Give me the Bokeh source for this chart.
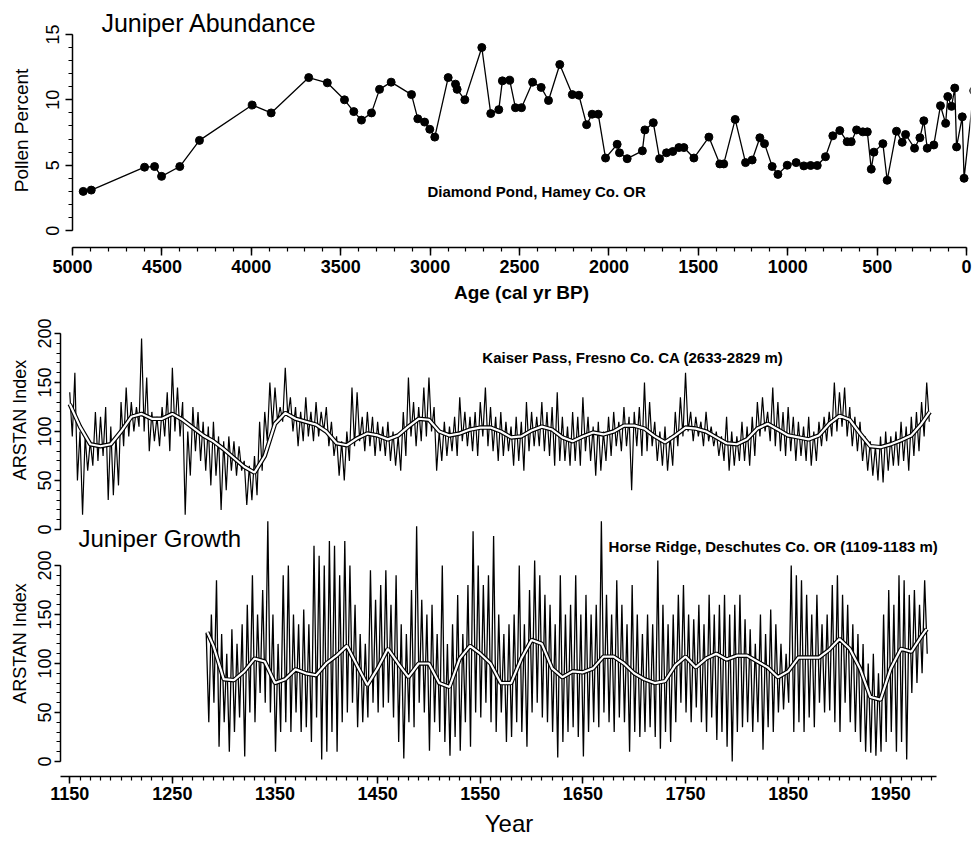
import numpy as np
from bokeh.plotting import figure
from bokeh.models import Range1d, FixedTicker, Label
from bokeh.layouts import column
from bokeh.embed import file_html
from bokeh.resources import INLINE

# ---------------- data ----------------
# Diamond Pond juniper pollen (age cal yr BP, percent)
pollen_age = [4940, 4895, 4597, 4541, 4502, 4400, 4290, 3995, 3889, 3679, 3575, 3479, 3427, 3384, 3328,
              3283, 3218, 3104, 3069, 3031, 3002, 2974, 2899, 2858, 2849, 2806, 2711, 2661, 2616, 2596,
              2555, 2523, 2489, 2427, 2379, 2338, 2275, 2205, 2168, 2125, 2094, 2060, 2019, 1954, 1941,
              1898, 1813, 1799, 1752, 1717, 1678, 1643, 1609, 1581, 1525, 1441, 1380, 1358, 1294, 1236,
              1199, 1156, 1130, 1087, 1055, 1003, 953, 910, 872, 835, 789, 748, 709, 668, 645,
              615, 580, 555, 533, 518, 468, 444, 392, 360, 341, 291, 261, 239, 220, 183,
              146, 117, 105, 84, 66, 56, 24, 14, -40]
pollen_pct = [3.0, 3.1, 4.85, 4.9, 4.15, 4.9, 6.9, 9.6, 9.0, 11.7, 11.3, 10.0, 9.1, 8.45, 9.0,
              10.8, 11.35, 10.4, 8.55, 8.3, 7.75, 7.15, 11.7, 11.2, 10.8, 10.0, 14.0, 8.95, 9.25, 11.45,
              11.5, 9.4, 9.4, 11.35, 10.95, 9.95, 12.7, 10.4, 10.35, 8.1, 8.9, 8.9, 5.55, 6.6, 5.95,
              5.5, 6.1, 7.7, 8.25, 5.5, 5.95, 6.05, 6.35, 6.35, 5.55, 7.15, 5.1, 5.1, 8.5, 5.2,
              5.4, 7.1, 6.65, 4.9, 4.3, 5.0, 5.2, 4.95, 4.98, 4.98, 5.65, 7.25, 7.65, 6.8, 6.8,
              7.7, 7.55, 7.55, 4.7, 6.0, 6.65, 3.85, 7.6, 6.75, 7.35, 6.3, 7.1, 8.4, 6.3, 6.55,
              9.55, 8.2, 10.25, 9.5, 10.9, 6.4, 8.7, 4.0, 10.7]
age_ticks = [5000, 4500, 4000, 3500, 3000, 2500, 2000, 1500, 1000, 500, 0]
age_minor = list(range(0, 5001, 100))
pct_ticks = [0, 5, 10, 15]
pct_minor = list(range(0, 16))

# Kaiser Pass ARSTAN index: high/low pairs read every 5 years from 1150 (2.5-yr steps)
kaiser_start, kaiser_step = 1150, 2.5
kaiser_vals = [
    140, 95, 160, 50, 100, 15, 95, 60, 90, 65, 120, 70, 115, 75, 125, 30, 105, 35, 95, 45,
    130, 85, 145, 95, 130, 100, 125, 105, 195, 100, 155, 80, 120, 90, 115, 85, 125, 95, 140, 80,
    165, 100, 145, 95, 130, 15, 100, 55, 125, 80, 120, 70, 110, 60, 105, 45, 110, 55, 95, 20,
    90, 40, 95, 60, 90, 55, 85, 60, 70, 25, 65, 30, 75, 35, 110, 60, 120, 90, 150, 105,
    145, 110, 125, 110, 165, 115, 135, 100, 125, 85, 120, 90, 135, 95, 120, 90, 130, 95, 120, 100,
    125, 85, 110, 75, 95, 55, 90, 50, 100, 70, 145, 85, 140, 90, 115, 80, 120, 85, 115, 75,
    110, 80, 105, 75, 110, 70, 100, 65, 95, 60, 120, 75, 155, 95, 130, 85, 125, 90, 145, 95,
    155, 100, 125, 60, 100, 70, 110, 75, 105, 80, 115, 75, 135, 90, 120, 85, 115, 80, 120, 75,
    130, 95, 145, 85, 125, 80, 115, 70, 120, 75, 110, 80, 105, 65, 115, 70, 110, 60, 130, 80,
    120, 85, 115, 85, 130, 80, 120, 75, 125, 65, 140, 70, 115, 70, 105, 65, 120, 70, 115, 65,
    135, 80, 115, 70, 105, 55, 110, 60, 100, 70, 115, 75, 120, 85, 110, 80, 125, 85, 115, 40,
    120, 85, 125, 75, 150, 80, 130, 85, 110, 70, 100, 65, 105, 60, 95, 65, 120, 85, 135, 95,
    160, 100, 120, 90, 115, 95, 110, 85, 120, 90, 105, 85, 100, 75, 95, 70, 115, 60, 100, 65,
    95, 70, 110, 70, 105, 65, 115, 75, 130, 95, 135, 100, 120, 90, 145, 85, 130, 80, 120, 75,
    125, 80, 115, 70, 110, 75, 105, 70, 115, 65, 100, 70, 110, 85, 115, 90, 120, 95, 150, 100,
    140, 105, 145, 95, 125, 85, 115, 80, 110, 70, 95, 60, 90, 55, 85, 50, 95, 48, 100, 60,
    95, 65, 100, 65, 110, 70, 105, 60, 115, 75, 120, 80, 130, 95, 150, 110]
kaiser_smooth_yr = list(range(1150, 1981, 10)) + [1988]
kaiser_smooth = [128, 105, 87, 85, 87, 100, 115, 118, 113, 113,
                 118, 112, 104, 96, 90, 82, 73, 64, 58, 75,
                 108, 119, 113, 110, 107, 100, 88, 86, 93, 98,
                 96, 92, 96, 105, 113, 112, 100, 96, 98, 102,
                 104, 104, 100, 94, 95, 101, 105, 102, 94, 90,
                 95, 99, 97, 100, 106, 106, 103, 95, 89, 96,
                 104, 103, 100, 94, 88, 87, 92, 103, 108, 102,
                 96, 94, 92, 96, 108, 116, 112, 98, 85, 84,
                 87, 91, 96, 108, 120]

# Horse Ridge ARSTAN index: high/low pairs read every 5 years from 1283 (2.5-yr steps)
horse_start, horse_step = 1283, 2.5
horse_vals = [
    130, 40, 150, 60, 185, 15, 130, 40, 110, 10, 135, 30, 120, 45, 140, 5, 160, 50, 190, 40,
    150, 70, 175, 60, 245, 50, 150, 10, 120, 30, 190, 40, 200, 30, 150, 50, 140, 30, 155, 35,
    140, 20, 220, 45, 210, 2, 200, 10, 225, 30, 220, 10, 190, 40, 225, 50, 200, 60, 160, 35,
    130, 40, 120, 45, 195, 60, 165, 50, 180, 55, 195, 60, 160, 45, 190, 20, 140, 3, 130, 40,
    175, 35, 240, 60, 165, 50, 150, 11, 160, 40, 130, 30, 200, 20, 120, 6, 140, 25, 170, 11,
    130, 40, 180, 15, 235, 50, 200, 45, 180, 60, 190, 40, 230, 30, 150, 50, 130, 20, 140, 25,
    150, 40, 200, 30, 140, 15, 175, 50, 205, 60, 190, 45, 170, 40, 160, 30, 140, 4, 190, 20,
    150, 30, 160, 35, 190, 25, 150, 5, 170, 30, 150, 40, 160, 35, 245, 50, 170, 40, 150, 30,
    185, 45, 160, 40, 140, 10, 180, 30, 150, 25, 130, 30, 150, 35, 140, 25, 205, 13, 160, 30,
    140, 20, 150, 40, 170, 60, 180, 50, 150, 40, 145, 55, 160, 40, 140, 30, 170, 45, 150, 22,
    160, 30, 170, 15, 150, 0, 160, 30, 170, 35, 145, 40, 135, 30, 120, 40, 150, 12, 130, 35,
    155, 30, 140, 50, 120, 53, 110, 60, 200, 30, 190, 40, 185, 30, 170, 45, 150, 35, 170, 60,
    140, 50, 150, 52, 180, 40, 190, 30, 170, 60, 160, 40, 140, 30, 130, 20, 120, 10, 100, 9,
    110, 6, 90, 10, 150, 20, 175, 30, 160, 10, 190, 20, 185, 2, 170, 70, 175, 80, 160, 90,
    185, 110]
horse_smooth_yr = [1284] + list(range(1290, 1981, 10)) + [1985]
horse_smooth = [132, 118, 84, 83, 92, 105, 102, 80, 84, 94,
                90, 88, 100, 108, 118, 98, 78, 95, 115, 100,
                86, 100, 100, 80, 76, 105, 118, 110, 100, 80,
                80, 105, 124, 120, 95, 86, 92, 91, 95, 107,
                107, 100, 90, 84, 80, 82, 98, 107, 96, 105,
                110, 104, 108, 108, 102, 96, 86, 92, 106, 106,
                106, 114, 125, 115, 95, 66, 63, 95, 115, 112,
                128, 135]
year_ticks = [1150, 1250, 1350, 1450, 1550, 1650, 1750, 1850, 1950]
year_minor = list(range(1150, 1991, 10))
idx_ticks = [0, 50, 100, 150, 200]
idx_minor = list(range(0, 201, 10))

FONT = "Liberation Sans"


def style_axis(ax, label_size, label_bold, title_size, title_bold,
               tick_out=7, label_standoff=3, title_standoff=2):
    ax.axis_line_color = "black"
    ax.axis_line_width = 1.5
    ax.major_tick_line_color = "black"
    ax.major_tick_line_width = 1.5
    ax.minor_tick_line_color = "black"
    ax.minor_tick_line_width = 1.2
    ax.major_tick_in = 0
    ax.major_tick_out = tick_out
    ax.minor_tick_in = 0
    ax.minor_tick_out = 4
    ax.major_label_text_font = FONT
    ax.major_label_text_font_size = label_size
    ax.major_label_text_font_style = "bold" if label_bold else "normal"
    ax.major_label_text_color = "black"
    ax.major_label_standoff = label_standoff
    ax.axis_label_text_font = FONT
    ax.axis_label_text_font_size = title_size
    ax.axis_label_text_font_style = "bold" if title_bold else "normal"
    ax.axis_label_text_color = "black"
    ax.axis_label_standoff = title_standoff


def label(fig, x, y, text, size, bold=False):
    fig.add_layout(Label(x=x, y=y, text=text, text_font=FONT, text_font_size=size,
                         text_font_style="bold" if bold else "normal",
                         text_baseline="middle", text_align="left", text_color="black"))


# ---------------- top panel: pollen ----------------
top = figure(width=972, height=305, min_border_left=72, min_border_right=2,
             min_border_top=13, min_border_bottom=57, frame_align=False,
             x_range=Range1d(5000, -22), y_range=Range1d(-1.29, 16.6),
             output_backend="svg", toolbar_location=None)
top.grid.visible = False
top.outline_line_color = None

xa = top.xaxis[0]
xa.bounds = (0, 5000)
xa.ticker = FixedTicker(ticks=age_ticks, minor_ticks=age_minor)
xa.axis_label = "Age (cal yr BP)"
style_axis(xa, "18px", True, "19px", True, tick_out=8, label_standoff=4, title_standoff=6)

ya = top.yaxis[0]
ya.bounds = (0, 15)
ya.ticker = FixedTicker(ticks=pct_ticks, minor_ticks=pct_minor)
ya.axis_label = "Pollen Percent"
ya.major_label_orientation = "parallel"
style_axis(ya, "18px", False, "19px", False, tick_out=7, label_standoff=6, title_standoff=12)

top.line(pollen_age, pollen_pct, line_color="black", line_width=1.3)
top.scatter(pollen_age, pollen_pct, size=8, fill_color="black", line_color="black")
label(top, 4838, 15.9, "Juniper Abundance", "25px")
label(top, 3015, 2.97, "Diamond Pond, Hamey Co. OR", "15px", True)

# ---------------- middle panel: Kaiser Pass ----------------
mid = figure(width=972, height=234, min_border_left=60, min_border_right=15,
             min_border_top=1, min_border_bottom=6, frame_align=False,
             x_range=Range1d(1141, 2015), y_range=Range1d(-4.1, 227.6),
             x_axis_location=None, output_backend="svg", toolbar_location=None)
mid.grid.visible = False
mid.outline_line_color = None

my = mid.yaxis[0]
my.bounds = (0, 200)
my.ticker = FixedTicker(ticks=idx_ticks, minor_ticks=idx_minor)
my.axis_label = "ARSTAN Index"
my.major_label_orientation = "parallel"
style_axis(my, "18px", False, "18px", False, tick_out=6, label_standoff=3, title_standoff=6)

kx = kaiser_start + kaiser_step * np.arange(len(kaiser_vals))
mid.line(kx, kaiser_vals, line_color="black", line_width=1.2)
mid.line(kaiser_smooth_yr, kaiser_smooth, line_color="black", line_width=4.5)
mid.line(kaiser_smooth_yr, kaiser_smooth, line_color="white", line_width=2.2)
label(mid, 1552, 175.5, "Kaiser Pass, Fresno Co. CA (2633-2829 m)", "15px", True)

# ---------------- bottom panel: Horse Ridge ----------------
bot = figure(width=972, height=330, min_border_left=60, min_border_right=15,
             min_border_top=0, min_border_bottom=64, frame_align=False,
             x_range=Range1d(1141, 2015), y_range=Range1d(-15.3, 256.1),
             output_backend="svg", toolbar_location=None, margin=(-29, 0, 0, 0))
bot.grid.visible = False
bot.outline_line_color = None
bot.background_fill_alpha = 0
bot.border_fill_alpha = 0

bx = bot.xaxis[0]
bx.bounds = (1141, 1995)
bx.ticker = FixedTicker(ticks=year_ticks, minor_ticks=year_minor)
bx.axis_label = "Year"
style_axis(bx, "18px", True, "24px", False, title_standoff=7)

by = bot.yaxis[0]
by.bounds = (0, 200)
by.ticker = FixedTicker(ticks=idx_ticks, minor_ticks=idx_minor)
by.axis_label = "ARSTAN Index"
by.major_label_orientation = "parallel"
style_axis(by, "18px", False, "18px", False, tick_out=6, label_standoff=3, title_standoff=6)

hx = horse_start + horse_step * np.arange(len(horse_vals))
bot.line(hx, horse_vals, line_color="black", line_width=1.3)
bot.line(horse_smooth_yr, horse_smooth, line_color="black", line_width=4.5)
bot.line(horse_smooth_yr, horse_smooth, line_color="white", line_width=2.2)
label(bot, 1158.5, 227.6, "Juniper Growth", "24px")
label(bot, 1675, 219.4, "Horse Ridge, Deschutes Co. OR (1109-1183 m)", "15px", True)

layout = column(top, mid, bot, spacing=0)
open("out.html", "w").write(file_html(layout, INLINE))
